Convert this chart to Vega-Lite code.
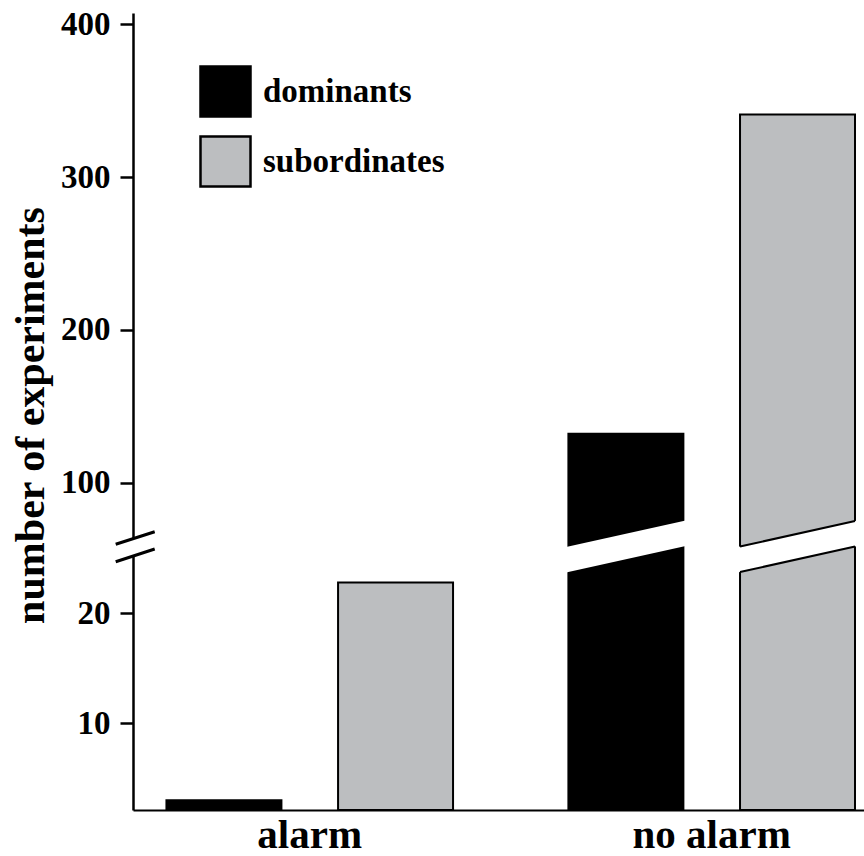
{
  "$schema": "https://vega.github.io/schema/vega-lite/v6.json",
  "autosize": "none",
  "padding": {"left": 133, "top": 13, "right": 0, "bottom": 46},
  "width": 731,
  "height": 797,
  "background": "white",
  "config": {"view": {"stroke": null}, "font": "Liberation Serif"},
  "data": {
    "values": [
      {"group": "alarm", "series": "dominants", "count": 3},
      {"group": "alarm", "series": "subordinates", "count": 22.8},
      {"group": "no alarm", "series": "dominants", "count": 132},
      {"group": "no alarm", "series": "subordinates", "count": 341}
    ]
  },
  "layer": [
    {
      "layer": [
        {
          "mark": {"type": "bar", "stroke": "black", "strokeWidth": 2},
          "encoding": {
            "x": {
              "field": "group",
              "type": "nominal",
              "sort": ["alarm", "no alarm"],
              "scale": {"paddingInner": 0.287, "paddingOuter": 0.0528, "align": 0.788},
              "axis": {
                "title": null,
                "ticks": false,
                "tickSize": 0,
                "domainColor": "black",
                "domainWidth": 2,
                "labelAngle": 0,
                "labelFont": "Liberation Serif",
                "labelFontSize": 41,
                "labelFontWeight": "bold",
                "labelColor": "black",
                "labelPadding": 37,
                "labelBaseline": "alphabetic"
              }
            },
            "xOffset": {
              "field": "series",
              "type": "nominal",
              "sort": ["dominants", "subordinates"],
              "scale": {"paddingInner": 0.33, "paddingOuter": 0}
            },
            "y": {
              "field": "count",
              "type": "quantitative",
              "scale": {
                "domain": [2.12, 26.07, 58.3, 407.4],
                "range": [797, 533.5, 533.5, 0],
                "zero": false,
                "nice": false,
                "clamp": true
              },
              "axis": {
                "values": [10, 20, 100, 200, 300, 400],
                "grid": false,
                "domainColor": "black",
                "domainWidth": 2.5,
                "tickColor": "black",
                "tickWidth": 2.5,
                "tickSize": 13,
                "labelFont": "Liberation Serif",
                "labelFontSize": 33,
                "labelFontWeight": "bold",
                "labelColor": "black",
                "labelPadding": 10,
                "labelBaseline": "middle",
                "title": "number of experiments",
                "titleFont": "Liberation Serif",
                "titleFontSize": 42,
                "titleFontWeight": "bold",
                "titleColor": "black",
                "titleAngle": -90,
                "titleAlign": "center",
                "titleBaseline": "alphabetic",
                "titleX": -90,
                "titleY": 402
              }
            },
            "fill": {
              "field": "series",
              "type": "nominal",
              "scale": {"domain": ["dominants", "subordinates"], "range": ["#000000", "#bcbec0"]},
              "legend": {
                "orient": "none",
                "legendX": 66,
                "legendY": 52,
                "title": null,
                "padding": 0,
                "symbolType": "square",
                "symbolSize": 2500,
                "symbolStrokeColor": "black",
                "symbolStrokeWidth": 2.5,
                "symbolOpacity": 1,
                "labelFont": "Liberation Serif",
                "labelFontSize": 33,
                "labelFontWeight": "bold",
                "labelColor": "black",
                "labelOffset": 11,
                "labelLimit": 400,
                "rowPadding": 9
              }
            }
          }
        },
        {
          "transform": [{"filter": "datum.group === 'no alarm'"}],
          "mark": {
            "type": "point",
            "shape": "M-1.04,0.009L1.04,-0.452L1.04,-0.009L-1.04,0.452Z",
            "size": 13225,
            "filled": true,
            "fill": "white",
            "strokeWidth": 0,
            "opacity": 1
          },
          "encoding": {
            "x": {"field": "group", "type": "nominal"},
            "xOffset": {"field": "series", "type": "nominal"},
            "y": {"datum": 26.07, "type": "quantitative"}
          }
        },
        {
          "transform": [{"filter": "datum.group === 'no alarm' && datum.series === 'subordinates'"}],
          "mark": {
            "type": "point",
            "shape": "M-1,0L1,-0.443M-1,0.443L1,0",
            "size": 13225,
            "filled": false,
            "stroke": "black",
            "strokeWidth": 2,
            "opacity": 1
          },
          "encoding": {
            "x": {"field": "group", "type": "nominal"},
            "xOffset": {"field": "series", "type": "nominal"},
            "y": {"datum": 26.07, "type": "quantitative"}
          }
        }
      ]
    },
    {
      "data": {"values": [{"marker": "axis break"}]},
      "layer": [
        {
          "mark": {
            "type": "point",
            "shape": "M-0.865,-0.11L1.085,-0.74L1.085,0.125L-0.865,0.76Z",
            "size": 1600,
            "filled": true,
            "fill": "white",
            "strokeWidth": 0,
            "opacity": 1
          },
          "encoding": {
            "x": {"datum": 0, "type": "quantitative", "scale": {"domain": [0, 1]}, "axis": null},
            "y": {"datum": 26.07, "type": "quantitative"}
          }
        },
        {
          "mark": {
            "type": "point",
            "shape": "M-0.865,-0.11L1.085,-0.74M-0.865,0.76L1.085,0.125",
            "size": 1600,
            "filled": false,
            "stroke": "black",
            "strokeWidth": 3,
            "opacity": 1
          },
          "encoding": {
            "x": {"datum": 0, "type": "quantitative", "scale": {"domain": [0, 1]}, "axis": null},
            "y": {"datum": 26.07, "type": "quantitative"}
          }
        }
      ]
    }
  ],
  "resolve": {"scale": {"x": "independent"}, "axis": {"x": "independent"}}
}
